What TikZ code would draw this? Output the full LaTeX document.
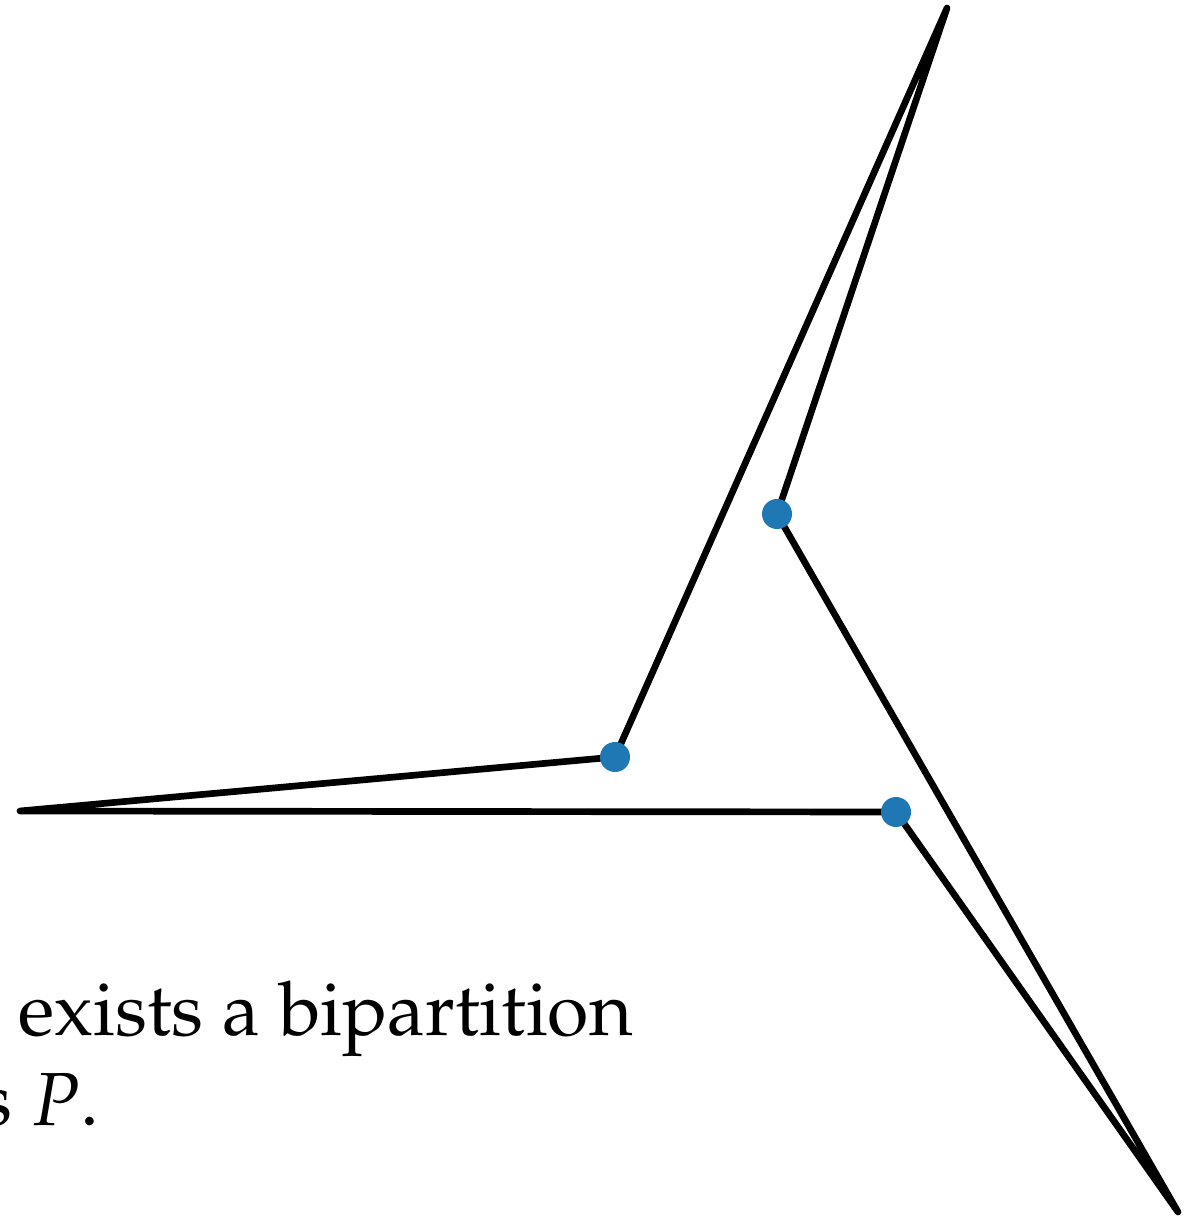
\documentclass[tikz,border=0pt]{standalone}
\usepackage[T1]{fontenc}
\usepackage{mathpazo}
\usepackage{xcolor}
\definecolor{dotBlue}{RGB}{31, 119, 180}
\usepackage{tikz}
\usetikzlibrary{positioning}

\begin{document}
\begin{tikzpicture}[
    x=0.01cm, y=-0.01cm,
    edgeLine/.style={
        draw=black, line width=1.9pt, line cap=round, line join=round
    },
    vertexDot/.style={
        circle, fill=dotBlue, inner sep=0pt, minimum size=0.3cm
    },
    captionText/.style={
        font=\fontsize{21.4}{27}\selectfont, anchor=base west, inner sep=0pt
    }
]

    % Frame
    \useasboundingbox (0,0) rectangle (1202,1222);
    \clip (0,0) rectangle (1202,1222);

    % Corner points
    \coordinate (tTop) at (947, 8);
    \coordinate (tLeft) at (20, 811);
    \coordinate (tBottom) at (1178, 1212);

    % Inner points
    \coordinate (pUpper) at (777, 514);
    \coordinate (pMiddle) at (615, 757);
    \coordinate (pLower) at (896, 812);

    % Outline
    \draw[edgeLine] (tLeft) -- (pMiddle) -- (tTop) -- (pUpper) -- (tBottom)
        -- (pLower) -- cycle;

    % Dots
    \node[vertexDot] (dUpper) at (pUpper) {};
    \node[vertexDot] (dMiddle) at (pMiddle) {};
    \node[vertexDot] (dLower) at (pLower) {};

    % Caption
    \node[captionText] (capOne) at (18, 1035) {exists a bipartition};
    \node[captionText] (capTwo) at (-20, 1125) {s $P$.};

\end{tikzpicture}
\end{document}
